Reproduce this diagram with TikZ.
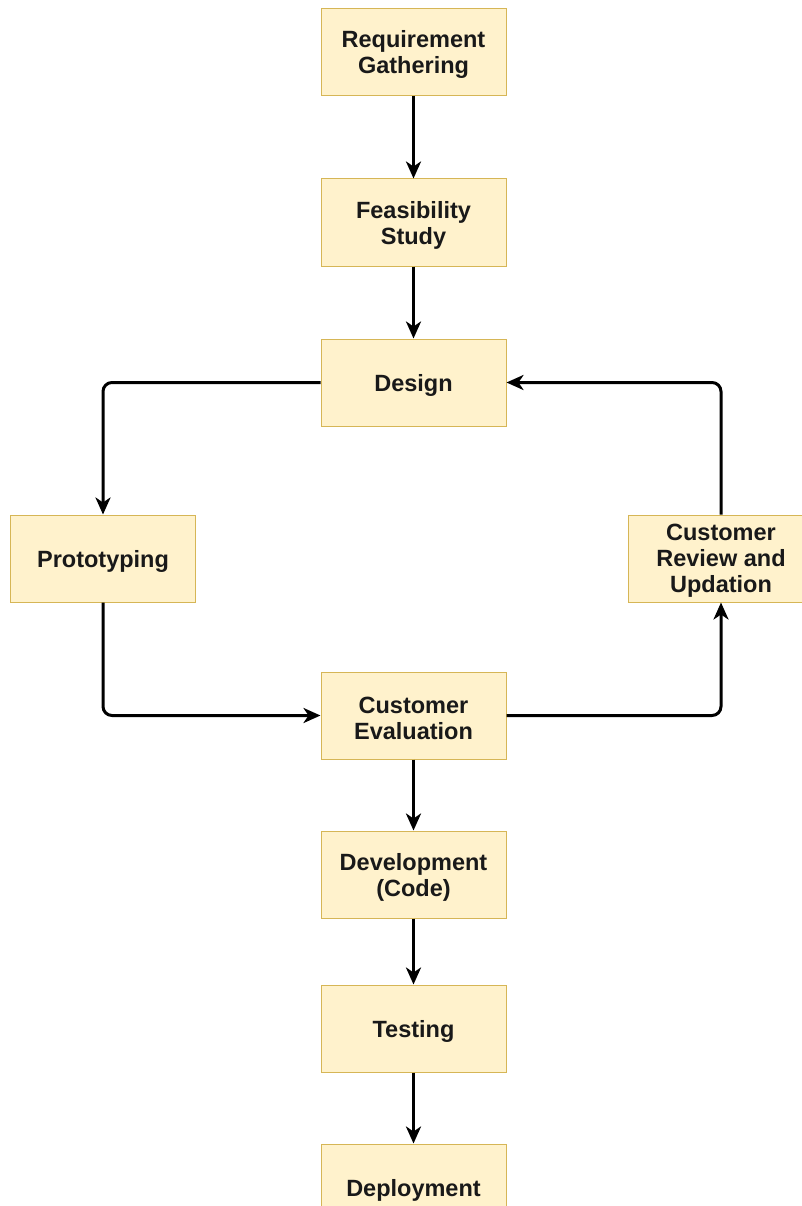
\documentclass[tikz,border=0pt]{standalone}
\usepackage{fontspec}
\setmainfont{Liberation Sans}
\usetikzlibrary{arrows.meta}
\definecolor{boxfill}{HTML}{FFF2CC}
\definecolor{boxline}{HTML}{D6B656}
\begin{document}
\begin{tikzpicture}[x=1pt,y=-1pt,
  stagetext/.style={inner sep=0pt,align=center,yshift=-2.5pt,font=\fontsize{23.5}{26}\selectfont\bfseries,text=black!90},
  stage/.style={draw=boxline,fill=boxfill,line width=1pt,minimum width=185pt,minimum height=87pt,
    inner sep=0pt,label={[stagetext]center:{#1}}},
  flow/.style={line width=3pt,-{Stealth[length=17pt,width=15pt,inset=5pt]},rounded corners=9pt}]
\useasboundingbox (0,0) rectangle (801,1206);
\node[stage={Requirement\\Gathering}] (req) at (413.5,52) {};
\node[stage={Feasibility\\Study}] (feas) at (413.5,222.5) {};
\node[stage={Design}] (des) at (413.5,382.5) {};
\node[stage={Prototyping}] (proto) at (103,558.5) {};
\node[stage={Customer\\Review and\\Updation}] (rev) at (721,558.5) {};
\node[stage={Customer\\Evaluation}] (eval) at (413.5,715.5) {};
\node[stage={Development\\(Code)}] (dev) at (413.5,874.5) {};
\node[stage={Testing}] (test) at (413.5,1028.5) {};
\node[stage={Deployment}] (dep) at (413.5,1187.5) {};
\draw[flow] (req) -- (feas);
\draw[flow] (feas) -- (des);
\draw[flow] (des.west) -| (proto.north);
\draw[flow] (proto.south) |- (eval.west);
\draw[flow] (eval.east) -| (rev.south);
\draw[flow] (rev.north) |- (des.east);
\draw[flow] (eval) -- (dev);
\draw[flow] (dev) -- (test);
\draw[flow] (test) -- (dep);
\end{tikzpicture}
\end{document}
